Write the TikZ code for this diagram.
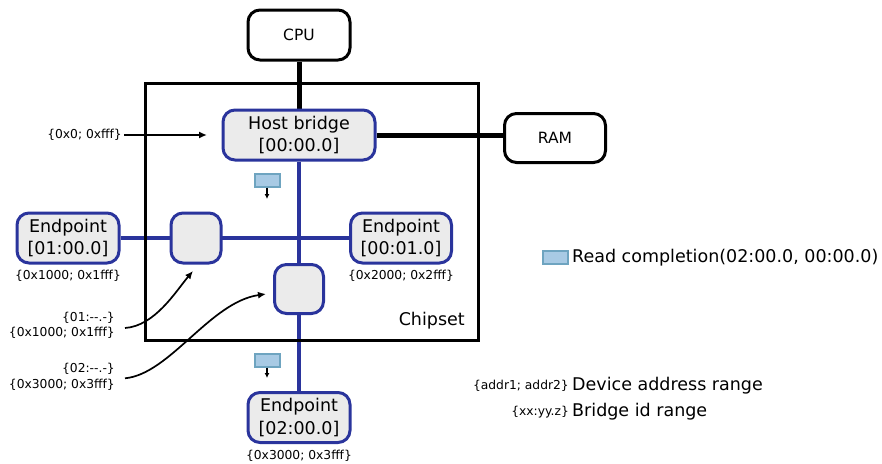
\documentclass[tikz,border=0pt]{standalone}
\usepackage{fontspec}
\setmainfont{DejaVu Sans}
\usetikzlibrary{arrows.meta,backgrounds}
\definecolor{busblue}{RGB}{42,52,156}
\definecolor{boxgray}{RGB}{235,235,235}
\definecolor{pktfill}{RGB}{168,202,228}
\definecolor{pktdraw}{RGB}{110,164,192}
\begin{document}
\begin{tikzpicture}[x=1pt,y=-1pt,
  blackbox/.style={draw=black, line width=3pt, rounded corners=12pt, fill=white, font=\fontsize{15.5}{18}\selectfont, inner sep=0pt},
  bluebox/.style={draw=busblue, line width=3pt, rounded corners=12pt, fill=boxgray, font=\fontsize{17.5}{22.5}\selectfont, align=center, inner sep=0pt},
  small/.style={font=\fontsize{12.3}{15.6}\selectfont, inner sep=0pt},
  big/.style={font=\fontsize{17.5}{21}\selectfont, inner sep=0pt},
  pkt/.style={draw=pktdraw, fill=pktfill, line width=2pt, minimum width=25pt, minimum height=13pt, inner sep=0pt},
  bus/.style={busblue, line width=4pt},
  link/.style={black, line width=5pt},
  ptr/.style={black, line width=1.7pt, -{Latex[length=8pt,width=7pt]}},
  pktptr/.style={black, line width=1.4pt, -{Latex[length=5pt,width=5pt]}}
]
\useasboundingbox (0,0) rectangle (882,463);

% nodes
\node[blackbox, minimum width=102pt, minimum height=50pt] (cpu) at (299,35) {CPU};
\node[bluebox, minimum width=152pt, minimum height=50pt] (hb) at (299,135) {Host bridge\\{[00:00.0]}};
\node[blackbox, minimum width=101pt, minimum height=49pt] (ram) at (555,138) {RAM};
\node[bluebox, minimum width=102pt, minimum height=50pt] (ep1) at (68,238) {Endpoint\\{[01:00.0]}};
\node[bluebox, minimum width=50pt, minimum height=50pt] (br1) at (196,238) {};
\node[bluebox, minimum width=101pt, minimum height=50pt] (ep2) at (401,238) {Endpoint\\{[00:01.0]}};
\node[bluebox, minimum width=49pt, minimum height=49pt] (br2) at (299,289) {};
\node[bluebox, minimum width=102pt, minimum height=50pt] (ep3) at (299,417.5) {Endpoint\\{[02:00.0]}};

\begin{scope}[on background layer]
  \draw[bus] (ep1) -- (ep2);
  \draw[bus] (hb) -- (ep3);
  \draw[link] (cpu) -- (hb);
  \draw[link] (hb) -- (hb -| ram.west);
  \draw[black, line width=3pt] (145,83.3) rectangle (478,340);
\end{scope}

\node[big, anchor=east] (chip) at (465,321) {Chipset};

% packets
\node[pkt] (p1) at (267,180) {};
\coordinate (p1t) at (267,199);
\draw[pktptr] (p1) -- (p1t);
\node[pkt] (p2) at (267,360) {};
\coordinate (p2t) at (267,378);
\draw[pktptr] (p2) -- (p2t);

% address labels
\node[small, anchor=east] (l0) at (122,135) {\{0x0; 0xfff\}};
\coordinate (l0t) at (207,135);
\draw[ptr] (l0.east) ++(2,0) -- (l0t);
\node[small] (a1) at (68,275.5) {\{0x1000; 0x1fff\}};
\node[small] (a2) at (401,275.5) {\{0x2000; 0x2fff\}};
\node[small] (a3) at (299,456) {\{0x3000; 0x3fff\}};

\node[small, anchor=east, align=right] (b1) at (115,325.5) {\{01:-{}-{}.-\}\\\{0x1000; 0x1fff\}};
\coordinate (b1t) at (193,271);
\draw[ptr] ([shift={(10,2.5)}]b1.east) .. controls (155,326) and (176,291) .. (b1t);
\node[small, anchor=east, align=right] (b2) at (115,376.7) {\{02:-{}-{}.-\}\\\{0x3000; 0x3fff\}};
\coordinate (b2t) at (266,294);
\draw[ptr] ([shift={(10,1.6)}]b2.east) .. controls (170,374) and (210,302) .. (b2t);

% legend
\node[pkt] (lp) at (555,257.3) {};
\node[big, anchor=west] (lpt) at (572,257.5) {Read completion(02:00.0, 00:00.0)};
\node[small, anchor=east] (lg1) at (569,385.7) {\{addr1; addr2\}};
\node[big, anchor=west] (lg1t) at (572,386) {Device address range};
\node[small, anchor=east] (lg2) at (569,411.7) {\{xx:yy.z\}};
\node[big, anchor=west] (lg2t) at (572,411.5) {Bridge id range};
\end{tikzpicture}
\end{document}
